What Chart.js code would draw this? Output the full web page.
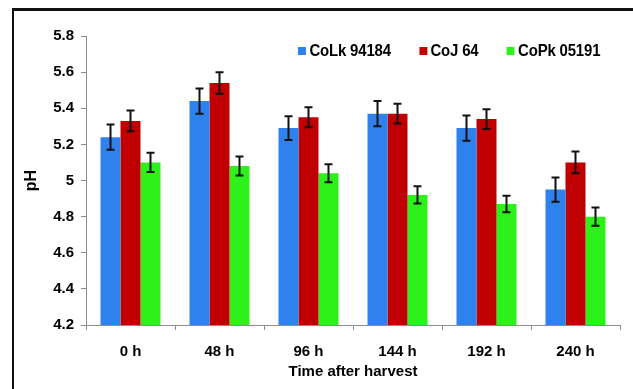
<!DOCTYPE html>
<html>
<head>
<meta charset="utf-8">
<script src="https://cdn.jsdelivr.net/npm/chart.js@4"></script>
<style>
    html, body { margin: 0; padding: 0; background: #fff; overflow: hidden; }
    #wrap { position: relative; width: 633px; height: 389px; }
    #frame {
        position: absolute; left: 12px; top: 8px; width: 700px; height: 500px;
        border-top: 3px solid #111; border-left: 2px solid #111;
    }
    #chart { position: absolute; left: 0; top: 0; }
    #legend {
        position: absolute; top: 41px; left: 298px;
        font: bold 17px "Liberation Sans", Arial, sans-serif; color: #000;
        display: flex; white-space: nowrap; letter-spacing: -0.2px;
        transform: scaleX(0.88); transform-origin: 0 0;
    }
    #legend span.item { display: flex; align-items: center; margin-right: 32px; }
    #legend span.box { width: 9px; height: 8px; margin-right: 4px; display: inline-block; }
</style>
</head>
<body>
<div id="wrap">
    <div id="frame"></div>
    <canvas id="chart" width="633" height="389"></canvas>
    <div id="legend"></div>
</div>
<script>
const categories = ["0 h", "48 h", "96 h", "144 h", "192 h", "240 h"];
const seriesNames = ["CoLk 94184", "CoJ 64", "CoPk 05191"];

const colk = [5.24, 5.44, 5.29, 5.37, 5.29, 4.95];
const coj = [5.33, 5.54, 5.35, 5.37, 5.34, 5.10];
const copk = [5.10, 5.08, 5.04, 4.92, 4.87, 4.80];

// standard error (half length of the error bar)
const colkErr = [0.07, 0.07, 0.066, 0.07, 0.07, 0.067];
const cojErr = [0.058, 0.06, 0.055, 0.055, 0.055, 0.06];
const copkErr = [0.053, 0.053, 0.05, 0.048, 0.046, 0.05];

const yTicks = [4.2, 4.4, 4.6, 4.8, 5, 5.2, 5.4, 5.6, 5.8];

const colors = ["#2f82ee", "#c00000", "#2ef01a"];
const font = "'Liberation Sans', Arial, sans-serif";

const errorBars = {
    id: "errorBars",
    afterDatasetsDraw(chart) {
        const ctx = chart.ctx;
        const y = chart.scales.y;
        ctx.save();
        ctx.strokeStyle = "#111";
        ctx.lineWidth = 2;
        chart.data.datasets.forEach((ds, i) => {
            const meta = chart.getDatasetMeta(i);
            meta.data.forEach((bar, j) => {
                const v = ds.data[j], e = ds.errors[j];
                const top = y.getPixelForValue(v + e);
                const bot = y.getPixelForValue(v - e);
                ctx.beginPath();
                ctx.moveTo(bar.x, top); ctx.lineTo(bar.x, bot);
                ctx.moveTo(bar.x - 4, top); ctx.lineTo(bar.x + 4, top);
                ctx.moveTo(bar.x - 4, bot); ctx.lineTo(bar.x + 4, bot);
                ctx.stroke();
            });
        });
        ctx.restore();
    }
};

const chart = new Chart(document.getElementById("chart"), {
    type: "bar",
    data: {
        labels: categories,
        datasets: [
            { label: seriesNames[0], data: colk, errors: colkErr, backgroundColor: colors[0] },
            { label: seriesNames[1], data: coj, errors: cojErr, backgroundColor: colors[1] },
            { label: seriesNames[2], data: copk, errors: copkErr, backgroundColor: colors[2] },
        ],
    },
    options: {
        responsive: false,
        animation: false,
        layout: { padding: { top: 36, right: 13, left: 0, bottom: 0 } },
        datasets: { bar: { categoryPercentage: 0.674, barPercentage: 1 } },
        plugins: { legend: { display: false }, tooltip: { enabled: false } },
        scales: {
            x: {
                afterFit: (s) => { s.height = 64; },
                grid: { drawOnChartArea: false, tickLength: 5, color: "#8c8c8c" },
                border: { color: "#8c8c8c" },
                ticks: { color: "#000", padding: 13, font: { family: font, size: 15, weight: "bold" } },
                title: {
                    display: true, text: "Time after harvest", color: "#000",
                    font: { family: font, size: 15, weight: "bold", lineHeight: 1 },
                    padding: { top: 0, bottom: 10 }
                }
            },
            y: {
                min: 4.2,
                max: 5.8,
                afterFit: (s) => { s.width = 86; },
                afterBuildTicks: (s) => { s.ticks = yTicks.map((v) => ({ value: v })); },
                grid: { drawOnChartArea: false, tickLength: 5, color: "#8c8c8c" },
                border: { color: "#8c8c8c" },
                ticks: {
                    color: "#000", padding: 7,
                    font: { family: font, size: 15, weight: "bold" },
                    callback: (v) => String(+v.toFixed(1))
                },
                title: {
                    display: true, text: "pH", color: "#000",
                    font: { family: font, size: 16, weight: "bold", lineHeight: 1 },
                    padding: { top: 24, bottom: 0 }
                }
            }
        }
    },
    plugins: [errorBars]
});

// html legend, same look as the excel one
const legend = document.getElementById("legend");
chart.data.datasets.forEach((ds) => {
    const item = document.createElement("span");
    item.className = "item";
    const box = document.createElement("span");
    box.className = "box";
    box.style.background = ds.backgroundColor;
    item.appendChild(box);
    item.appendChild(document.createTextNode(ds.label));
    legend.appendChild(item);
});
</script>
</body>
</html>
